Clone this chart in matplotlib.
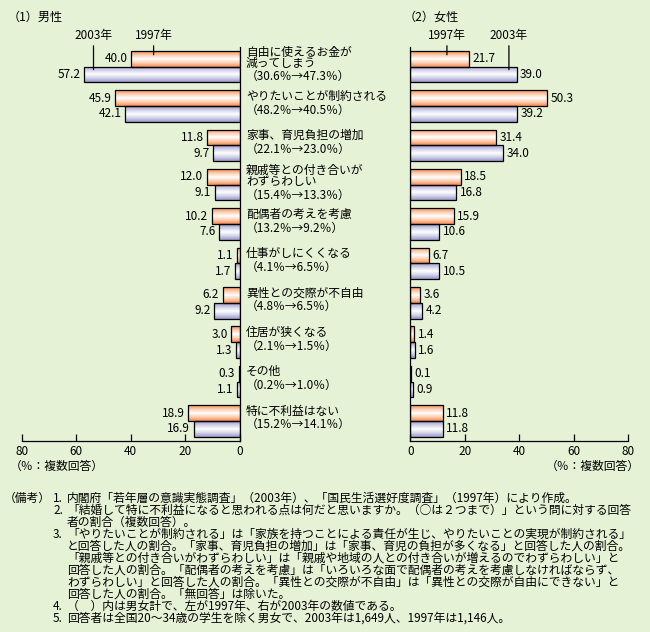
import numpy as np
import matplotlib
matplotlib.use('Agg')
import matplotlib.pyplot as plt
from matplotlib.colors import LinearSegmentedColormap
from matplotlib.transforms import blended_transform_factory

plt.rcParams['font.family'] = ['Noto Sans CJK JP', 'DejaVu Sans']

# data
categories = [
    ['自由に使えるお金が', '減ってしまう'],
    ['やりたいことが制約される'],
    ['家事、育児負担の増加'],
    ['親戚等との付き合いが', 'わずらわしい'],
    ['配偶者の考えを考慮'],
    ['仕事がしにくくなる'],
    ['異性との交際が不自由'],
    ['住居が狭くなる'],
    ['その他'],
    ['特に不利益はない'],
]
total_1997 = [30.6, 48.2, 22.1, 15.4, 13.2, 4.1, 4.8, 2.1, 0.2, 15.2]
total_2003 = [47.3, 40.5, 23.0, 13.3, 9.2, 6.5, 6.5, 1.5, 1.0, 14.1]
male_1997 = [40.0, 45.9, 11.8, 12.0, 10.2, 1.1, 6.2, 3.0, 0.3, 18.9]
male_2003 = [57.2, 42.1, 9.7, 9.1, 7.6, 1.7, 9.2, 1.3, 1.1, 16.9]
female_1997 = [21.7, 50.3, 31.4, 18.5, 15.9, 6.7, 3.6, 1.4, 0.1, 11.8]
female_2003 = [39.0, 39.2, 34.0, 16.8, 10.6, 10.5, 4.2, 1.6, 0.9, 11.8]
xticks = [0, 20, 40, 60, 80]

notes = [
    ('（備考）', '1.', '内閣府「若年層の意識実態調査」（2003年）、「国民生活選好度調査」（1997年）により作成。'),
    ('', '2.', '「結婚して特に不利益になると思われる点は何だと思いますか。（○は２つまで）」という問に対する回答'),
    ('', '', '者の割合（複数回答）。'),
    ('', '3.', '「やりたいことが制約される」は「家族を持つことによる責任が生じ、やりたいことの実現が制約される」'),
    ('', '', 'と回答した人の割合。「家事、育児負担の増加」は「家事、育児の負担が多くなる」と回答した人の割合。'),
    ('', '', '「親戚等との付き合いがわずらわしい」は「親戚や地域の人との付き合いが増えるのでわずらわしい」と'),
    ('', '', '回答した人の割合。「配偶者の考えを考慮」は「いろいろな面で配偶者の考えを考慮しなければならず、'),
    ('', '', 'わずらわしい」と回答した人の割合。「異性との交際が不自由」は「異性との交際が自由にできない」と'),
    ('', '', '回答した人の割合。「無回答」は除いた。'),
    ('', '4.', '（　）内は男女計で、左が1997年、右が2003年の数値である。'),
    ('', '5.', '回答者は全国20～34歳の学生を除く男女で、2003年は1,649人、1997年は1,146人。'),
]

bg = '#e6f2d6'
orange_cmap = LinearSegmentedColormap.from_list('o', ['#f58c52', '#fccdb0', '#ffffff', '#fccdb0', '#f58c52'])
blue_cmap = LinearSegmentedColormap.from_list('b', ['#9898cc', '#d2d2ea', '#ffffff', '#d2d2ea', '#9898cc'])
grad = np.linspace(0, 1, 64).reshape(-1, 1)

W, H = 650, 632
fig = plt.figure(figsize=(6.5, 6.32), dpi=100, facecolor=bg)

ax_l = fig.add_axes([22 / W, 1 - 441 / H, 217.5 / W, 394.5 / H])
ax_r = fig.add_axes([410.5 / W, 1 - 441 / H, 217.5 / W, 394.5 / H])

y = np.arange(len(categories))
bh = 0.4


def gradient_bars(ax, bars, cmap):
    # fill each bar with a gradient clipped to its shape
    for b in bars:
        x0, y0 = b.get_x(), b.get_y()
        im = ax.imshow(grad, cmap=cmap, aspect='auto', interpolation='bilinear',
                       extent=[x0, x0 + b.get_width(), y0 + b.get_height(), y0], zorder=1)
        im.set_clip_path(b)


def value_labels(ax, bars, vals, side):
    for b, v in zip(bars, vals):
        ax.annotate('%.1f' % v, xy=(v, b.get_y() + b.get_height() / 2),
                    xytext=(side * 2.5, 0), textcoords='offset points',
                    ha='left' if side > 0 else 'right', va='center', fontsize=8.5)


for ax, v97, v03, side in [(ax_l, male_1997, male_2003, -1), (ax_r, female_1997, female_2003, 1)]:
    ax.set_facecolor('none')
    b97 = ax.barh(y - bh / 2, v97, height=bh, facecolor='none', edgecolor='black', linewidth=0.9, zorder=2)
    b03 = ax.barh(y + bh / 2, v03, height=bh, facecolor='none', edgecolor='black', linewidth=0.9, zorder=2)
    gradient_bars(ax, b97, orange_cmap)
    gradient_bars(ax, b03, blue_cmap)
    value_labels(ax, b97, v97, side)
    value_labels(ax, b03, v03, side)
    ax.set_ylim(9.51, -0.51)
    ax.set_yticks([])
    ax.set_xticks(xticks)
    ax.tick_params(axis='x', direction='in', length=5, width=0.9, pad=3, labelsize=8.5)
    ax.spines['top'].set_visible(False)
    for s in ax.spines.values():
        s.set_linewidth(0.9)

ax_l.set_xlim(80, 0)
ax_l.spines['left'].set_visible(False)
ax_r.set_xlim(0, 80)
ax_r.spines['right'].set_visible(False)

# category labels in the middle
tr = blended_transform_factory(fig.transFigure, ax_l.transData)
for i, name in enumerate(categories):
    lines = name + ['（%.1f％→%.1f％）' % (total_1997[i], total_2003[i])]
    offs = [-0.37, -0.07, 0.26] if len(lines) == 3 else [-0.25, 0.1]
    for ln, off in zip(lines, offs):
        ax_l.text(246 / W, i + off, ln, transform=tr, ha='left', va='center', fontsize=8.5)

# year labels with leader lines
lp = dict(arrowstyle='-', lw=0.9, color='black', shrinkA=1, shrinkB=0)
ax_l.annotate('2003年', xy=(53.7, 0.08), xytext=(53.7, -0.8), ha='center', va='center',
              fontsize=8.5, arrowprops=lp, annotation_clip=False)
ax_l.annotate('1997年', xy=(31.6, -0.3), xytext=(31.6, -0.8), ha='center', va='center',
              fontsize=8.5, arrowprops=lp, annotation_clip=False)
ax_r.annotate('1997年', xy=(13.4, -0.3), xytext=(13.4, -0.8), ha='center', va='center',
              fontsize=8.5, arrowprops=lp, annotation_clip=False)
ax_r.annotate('2003年', xy=(36.2, 0.08), xytext=(36.2, -0.8), ha='center', va='center',
              fontsize=8.5, arrowprops=lp, annotation_clip=False)

fig.text(8 / W, 1 - 17 / H, '（1）男性', fontsize=8.7, va='center')
fig.text(404 / W, 1 - 17 / H, '（2）女性', fontsize=8.7, va='center')
fig.text(10 / W, 1 - 466 / H, '（％：複数回答）', fontsize=8.5, va='center')
fig.text(640 / W, 1 - 466 / H, '（％：複数回答）', fontsize=8.5, va='center', ha='right')

for k, (head, num, body) in enumerate(notes):
    yy = 1 - (498 + 12 * k) / H
    if head:
        fig.text(4 / W, yy, head, fontsize=8.5, va='center')
    if num:
        fig.text(53 / W, yy, num, fontsize=8.5, va='center')
    fig.text(67 / W, yy, body, fontsize=8.5, va='center')

fig.savefig('out.png', dpi=100, facecolor=bg)
